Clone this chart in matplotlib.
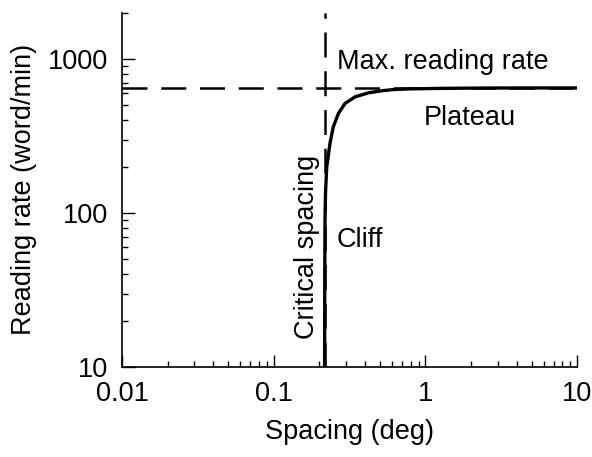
import numpy as np
from matplotlib import pyplot as plt
from matplotlib.ticker import LogLocator, FixedLocator, NullFormatter

plt.rcParams['font.family'] = ['Liberation Sans', 'DejaVu Sans']

# curve
spacing = [0.2165, 0.2170, 0.2178, 0.2195, 0.2236, 0.227, 0.235, 0.247, 0.267,
           0.295, 0.344, 0.421, 0.515, 0.624, 0.80, 1.31, 2.5, 5.0, 10.0]
rate = [10, 40, 90, 135, 200, 221, 285, 363, 444,
        515, 569, 604, 623, 635, 641, 646, 649, 650, 650]

max_rate = 650
crit_spacing = 0.217

xticks = [0.01, 0.1, 1, 10]
xlabels = ['0.01', '0.1', '1', '10']
yticks = [10, 100, 1000]
ylabels = ['10', '100', '1000']

fig = plt.figure(figsize=(5.92, 4.57), dpi=100)
ax = fig.add_axes([0.206, 0.197, 0.769, 0.775])

ax.plot(spacing, rate, color='black', lw=2.4, solid_capstyle='butt', zorder=3)
ax.axhline(max_rate, color='black', lw=1.8, dashes=(10, 5.5), zorder=2)
ax.axvline(crit_spacing, color='black', lw=1.8, dashes=(10, 5.5), zorder=2)

ax.set_xscale('log')
ax.set_yscale('log')
ax.set_xlim(0.01, 10)
ax.set_ylim(10, 2000)

ax.xaxis.set_major_locator(FixedLocator(xticks))
ax.set_xticklabels(xlabels)
ax.yaxis.set_major_locator(FixedLocator(yticks))
ax.set_yticklabels(ylabels)
ax.xaxis.set_minor_locator(LogLocator(base=10, subs=np.arange(2, 10)))
ax.yaxis.set_minor_locator(LogLocator(base=10, subs=np.arange(2, 10)))
ax.xaxis.set_minor_formatter(NullFormatter())
ax.yaxis.set_minor_formatter(NullFormatter())

ax.tick_params(which='major', direction='in', length=9, width=1.0, labelsize=19.5, pad=10)
ax.tick_params(which='minor', direction='in', length=4.5, width=1.0)

for s in ['top', 'right']:
    ax.spines[s].set_visible(False)
for s in ['left', 'bottom']:
    ax.spines[s].set_linewidth(1.2)

ax.set_xlabel('Spacing (deg)', fontsize=19.5, labelpad=9)
ax.set_ylabel('Reading rate (word/min)', fontsize=19.5, labelpad=8)

ax.text(1.31, 955, 'Max. reading rate', fontsize=19.5, ha='center', va='center')
ax.text(1.97, 414, 'Plateau', fontsize=19.5, ha='center', va='center')
ax.text(0.371, 67, 'Cliff', fontsize=19.5, ha='center', va='center')
ax.text(0.166, 60, 'Critical spacing', fontsize=19.5, ha='center', va='center', rotation=90)

plt.savefig('out.png', dpi=100)
